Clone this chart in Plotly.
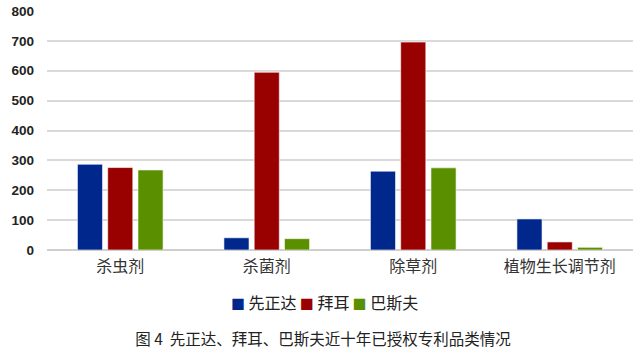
import plotly.graph_objects as go

categories = ["杀虫剂", "杀菌剂", "除草剂", "植物生长调节剂"]
series_names = ["先正达", "拜耳", "巴斯夫"]
syngenta = [287, 41, 264, 104]
bayer = [276, 595, 696, 27]
basf = [268, 38, 275, 9]
y_ticks = [0, 100, 200, 300, 400, 500, 600, 700, 800]
title_text = "图 4  先正达、拜耳、巴斯夫近十年已授权专利品类情况"

colors = ["#00288c", "#990000", "#5a8f00"]
values = [syngenta, bayer, basf]

fig = go.Figure()
for name, vals, c in zip(series_names, values, colors):
    fig.add_trace(go.Bar(
        x=categories, y=vals, name=name,
        marker=dict(color=c, line=dict(color="rgba(255,255,255,0.6)", width=1)),
    ))

font_cjk = "Noto Sans CJK SC, Noto Sans, sans-serif"

# compact legend as a single text line (symbols + names)
legend_parts = []
for name, c in zip(series_names, colors):
    legend_parts.append(
        f"<span style='color:{c};font-size:14px'>■</span> {name}"
    )
legend_text = "\u2009".join(legend_parts)

fig.update_layout(
    width=642, height=358,
    margin=dict(l=47, r=9, t=11, b=108, autoexpand=False),
    paper_bgcolor="#ffffff",
    plot_bgcolor="#ffffff",
    barmode="group",
    bargap=0.38,
    bargroupgap=0.17,
    font=dict(family=font_cjk, color="#333333"),
    showlegend=False,
    title=dict(
        text=title_text,
        x=0.503, xanchor="center", xref="container",
        yref="container", y=0.0503, yanchor="middle",
        font=dict(size=15.5, color="#222222", family=font_cjk),
    ),
    xaxis=dict(
        showgrid=False, showline=False, ticks="", automargin=False,
        tickfont=dict(size=16, color="#333333", family=font_cjk),
        ticklabelstandoff=5,
    ),
    yaxis=dict(
        range=[0, 800], tickvals=y_ticks, automargin=False,
        showgrid=True, gridcolor="#d9d9d9", gridwidth=1.5,
        zeroline=True, zerolinecolor="#cfcfcf", zerolinewidth=1.5,
        showline=False, ticks="",
        tickfont=dict(size=13.5, color="#222222", family="Liberation Sans, Arial, sans-serif", weight="bold"),
        ticklabelstandoff=12,
    ),
    annotations=[dict(
        text=legend_text, showarrow=False,
        xref="paper", x=0.4744, xanchor="center",
        yref="paper", y=-(302.5 - 250) / 239, yanchor="middle",
        font=dict(size=16, color="#222222", family=font_cjk),
    )],
)

fig.write_html("out.html", config={"displayModeBar": False},
               post_script="document.body.style.margin='0';")
